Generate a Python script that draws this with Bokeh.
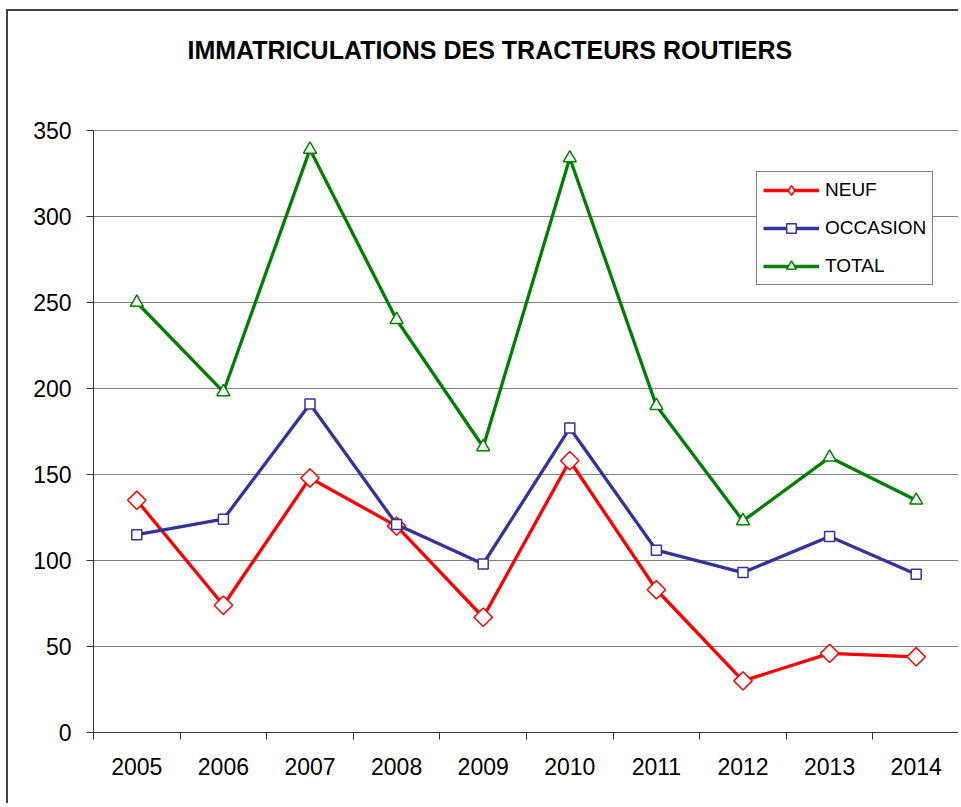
import numpy as np
from bokeh.plotting import figure
from bokeh.models import (Range1d, FixedTicker, Legend, LegendItem, Title)
from bokeh.embed import file_html
from bokeh.resources import INLINE

years = ["2005", "2006", "2007", "2008", "2009", "2010", "2011", "2012", "2013", "2014"]
neuf = [135, 74, 148, 120, 67, 158, 83, 30, 46, 44]
occasion = [115, 124, 191, 121, 98, 177, 106, 93, 114, 92]
total = [250, 198, 339, 240, 166, 334, 190, 123, 160, 135]
y_ticks = [0, 50, 100, 150, 200, 250, 300, 350]
title_text = "IMMATRICULATIONS DES TRACTEURS ROUTIERS"

x = [i + 0.5 for i in range(len(years))]
FONT = "Liberation Sans"

p = figure(width=952, height=794, output_backend="svg", toolbar_location=None,
           title=None,
           x_range=Range1d(0, len(years)), y_range=Range1d(0, 350),
           min_border_left=85, min_border_top=119, min_border_right=1,
           min_border_bottom=73)
p.styles = {"margin-left": "6px", "margin-top": "9px",
            "border-left": "2px solid #404040", "border-top": "2px solid #404040"}

# spacer between frame and title, then the title itself (outermost)
spacer = Title(text=" ", text_font=FONT, text_font_size="25px", standoff=37)
p.add_layout(spacer, "above")
main_title = Title(text=title_text, align="left", offset=94, standoff=0,
                   text_font=FONT, text_font_size="25px",
                   text_font_style="bold", text_color="black")
p.add_layout(main_title, "above")

p.outline_line_color = "#808080"
p.outline_line_width = 1

# grid
p.xgrid.visible = False
p.ygrid.grid_line_color = "#808080"
p.ygrid.grid_line_width = 1

# x axis: labels at centers, ticks at boundaries (minor)
p.xaxis.ticker = FixedTicker(ticks=x, minor_ticks=list(range(len(years) + 1)))
p.xaxis.major_label_overrides = {xi: y for xi, y in zip(x, years)}
p.xaxis.major_tick_out = 0
p.xaxis.major_tick_in = 0
p.xaxis.minor_tick_out = 7
p.xaxis.minor_tick_in = 0
p.xaxis.minor_tick_line_color = "#333333"
p.xaxis.axis_line_color = "#333333"
p.xaxis.major_label_text_font = FONT
p.xaxis.major_label_text_font_size = "23px"
p.xaxis.major_label_text_color = "black"
p.xaxis.major_label_standoff = 18

p.yaxis.ticker = FixedTicker(ticks=y_ticks, minor_ticks=[])
p.yaxis.major_tick_out = 7
p.yaxis.major_tick_in = 0
p.yaxis.major_tick_line_color = "#333333"
p.yaxis.axis_line_color = "#333333"
p.yaxis.major_label_text_font = FONT
p.yaxis.major_label_text_font_size = "23px"
p.yaxis.major_label_text_color = "black"
p.yaxis.major_label_standoff = 15

red = "#FF0000"
blue = "#333399"
green = "#008000"

l1 = p.line(x, neuf, line_color=red, line_width=3.3)
s1 = p.scatter(x, neuf, marker="square", angle=np.pi / 4, size=13,
               line_color=red, fill_color="white", line_width=1.5)
l2 = p.line(x, occasion, line_color=blue, line_width=3.3)
s2 = p.scatter(x, occasion, marker="square", size=10,
               line_color=blue, fill_color="white", line_width=1.5)
l3 = p.line(x, total, line_color=green, line_width=3.3)
s3 = p.scatter(x, total, marker="triangle", size=13,
               line_color=green, fill_color="white", line_width=1.5)

# legend-only diamond (legend markers ignore angle)
d1 = p.scatter([np.nan], [np.nan], marker="diamond", size=13,
               line_color=red, fill_color="white", line_width=1.5)

legend = Legend(items=[LegendItem(label="NEUF", renderers=[l1, d1]),
                       LegendItem(label="OCCASION", renderers=[l2, s2]),
                       LegendItem(label="TOTAL", renderers=[l3, s3])],
                location=(663, 447))
legend.label_text_font = FONT
legend.label_text_font_size = "19px"
legend.label_text_color = "black"
legend.glyph_width = 56
legend.glyph_height = 24
legend.label_height = 24
legend.label_standoff = 6
legend.spacing = 14
legend.padding = 6
legend.margin = 0
legend.border_line_color = "black"
legend.border_line_width = 1
legend.background_fill_color = "white"
legend.background_fill_alpha = 1
p.add_layout(legend, "center")

open("out.html", "w").write(file_html(p, INLINE))
